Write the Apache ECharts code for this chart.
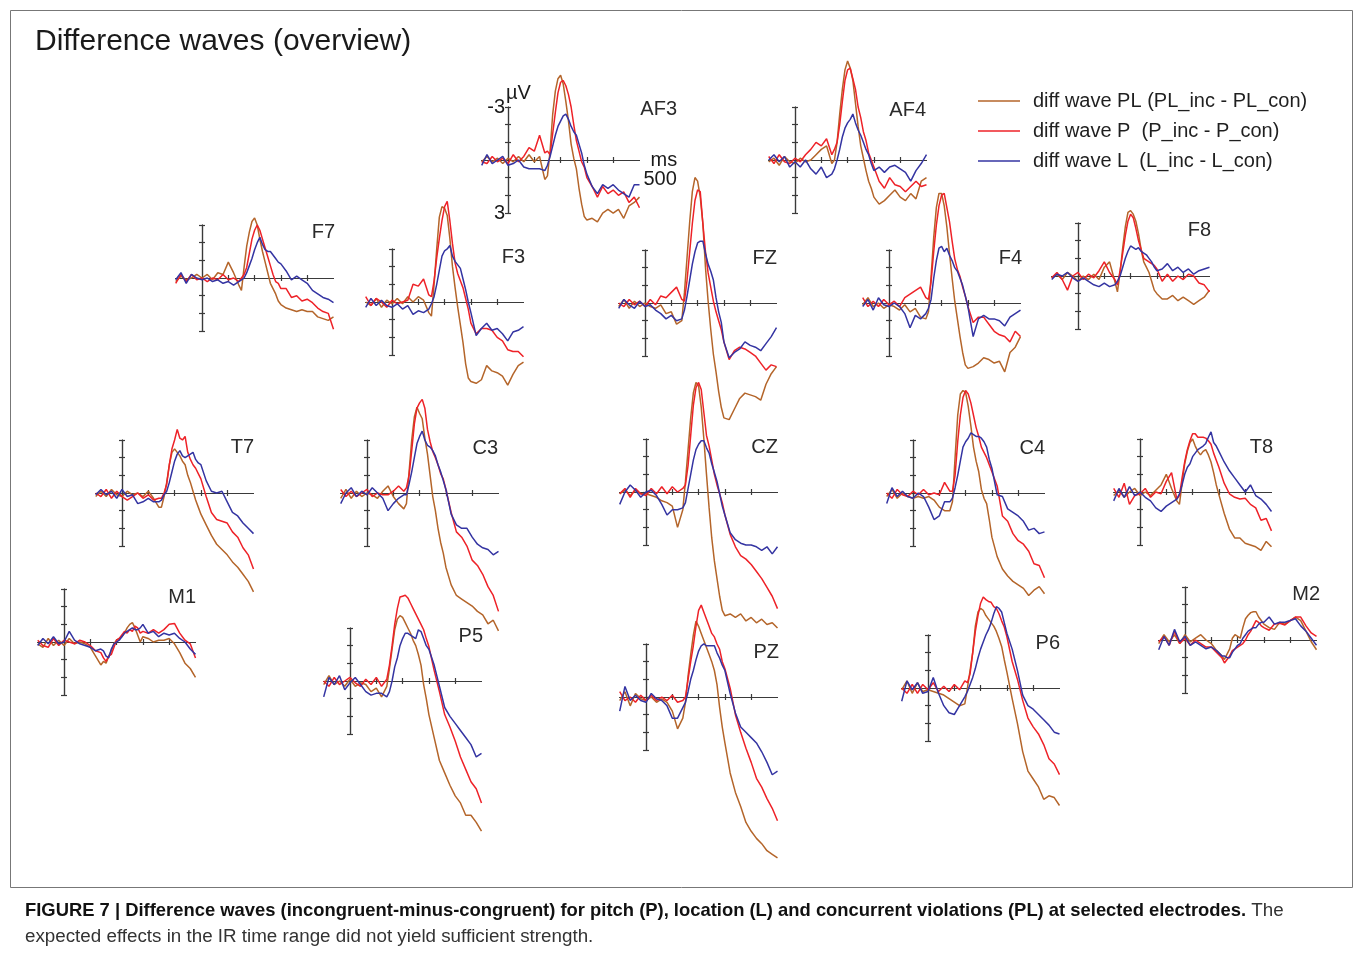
<!DOCTYPE html>
<html><head><meta charset="utf-8">
<script src="https://cdn.jsdelivr.net/npm/echarts@6/dist/echarts.min.js"></script>
<style>html,body{margin:0;padding:0;background:#fff}#c{width:1355px;height:955px}</style>
</head><body><div id="c"></div>
<script>
// time axis (ms)
const times = [-100,-80,-60,-40,-20,0,20,40,60,80,100,120,140,150,160,170,180,190,200,210,220,230,240,250,260,270,280,290,300,320,340,360,380,400,420,440,460,480,500];
const seriesNames = ['diff wave PL (PL_inc - PL_con)', 'diff wave P  (P_inc - P_con)', 'diff wave L  (L_inc - L_con)'];
const seriesColors = ['#B4652A', '#EE2228', '#3434A2'];
const xTickValues = [100,200,300,400];
const yTickLabels = [-3, 3];
const xTickLabel = 500;

// values in µV (negative up)
const AF3_PL = [0.1,-0.2,0.1,-0.1,0.2,-0.1,0.1,-0.2,0.1,-0.3,0.1,-0.2,1.1, 0.9,-0.5,-2.6,-3.9,-4.6,-4.8,-4.3,-3.3,-2.2,-0.9,-0.1,0.5,1.6,2.5,3.2,3.4, 3.3,3.5,3.0,2.8,3.0,2.8,3.3,2.6,2.4,2.1];
const AF3_P  = [0.1,0.2,-0.2,0.1,-0.1,0.2,-0.3,0.1,-0.2,-0.7,-0.5,-1.4,-0.4, -0.5,-0.3,-1.5,-2.7,-3.8,-4.4,-4.5,-4.2,-3.7,-3.0,-2.0,-1.1,-0.5,0.1,0.4,1.0, 1.5,2.1,1.5,1.9,1.7,2.0,1.8,2.4,2.1,2.7];
const AF3_L  = [0.3,-0.3,0.2,0.0,-0.2,0.3,0.2,0.0,0.4,0.5,0.5,0.5,0.6, 0.3,-0.2,-0.8,-1.4,-1.9,-2.2,-2.5,-2.6,-2.3,-1.9,-1.6,-1.4,-0.9,-0.4,0.3,0.8, 1.5,1.9,1.4,1.6,1.4,1.7,1.9,2.1,1.4,1.4];
const AF4_PL = [0.1,-0.1,0.3,-0.2,0.1,0.2,-0.1,0.1,0.0,-0.3,-0.6,-0.8,0.2, 0.0,-1.0,-2.6,-4.0,-5.1,-5.6,-5.2,-4.5,-3.2,-1.9,-0.8,-0.1,0.6,1.2,1.6,2.1, 2.5,2.3,2.0,1.7,2.1,2.3,1.9,2.2,1.2,1.0];
const AF4_P  = [-0.2,0.2,-0.3,0.1,0.2,-0.1,0.1,-0.3,-0.6,-1.0,-0.8,-1.2,-0.3, -0.6,-1.0,-2.0,-3.3,-4.5,-5.1,-5.2,-4.6,-4.0,-3.0,-2.4,-1.6,-1.1,-0.4,0.0,0.4, 1.2,1.6,1.0,1.4,1.5,1.8,1.5,1.2,1.5,1.4];
const AF4_L  = [0.0,-0.3,0.1,-0.2,0.4,0.1,0.4,0.0,0.5,0.8,0.4,1.0,0.8, 0.5,0.0,-0.6,-1.3,-1.8,-2.1,-2.3,-2.6,-2.1,-1.7,-1.4,-1.0,-0.6,-0.3,0.2,0.6, 0.4,0.7,0.4,0.3,0.5,0.7,1.2,0.6,0.2,-0.3];
const F7_PL = [0.2,-0.1,0.1,0.0,-0.2,0.0,-0.2,0.1,-0.3,-0.2,-0.9,-0.3,0.4, 0.7,-0.6,-1.8,-2.6,-3.2,-3.4,-3.0,-2.2,-1.5,-0.9,-0.3,0.3,0.6,0.9,1.3,1.5, 1.7,1.8,1.9,1.8,1.9,1.9,2.2,2.3,2.4,2.2];
const F7_P  = [0.3,-0.2,0.2,-0.2,0.1,0.0,0.2,0.0,0.1,-0.2,0.1,0.0,0.2, 0.0,-0.2,-0.6,-1.4,-2.2,-2.7,-3.0,-2.7,-2.2,-1.7,-1.2,-0.7,-0.2,0.2,0.3,0.6, 0.6,1.1,1.0,1.3,1.2,1.4,1.7,1.9,2.0,2.9];
const F7_L  = [0.1,-0.3,0.3,-0.2,0.0,0.1,0.0,0.2,0.1,0.3,0.2,0.4,0.2, 0.1,0.0,-0.3,-0.7,-1.1,-1.6,-2.0,-2.3,-1.9,-1.6,-1.5,-1.5,-1.3,-1.1,-0.9,-0.8, -0.4,0.1,-0.1,0.1,0.3,0.7,0.9,1.1,1.2,1.4];
const F3_PL = [0.0,0.2,-0.2,0.3,-0.1,0.1,-0.2,0.1,-0.3,0.0,-0.3,-0.1,0.6, 0.8,-1.0,-3.0,-4.8,-5.4,-5.3,-4.9,-3.6,-2.0,-0.8,0.3,1.3,2.3,3.5,4.3,4.5, 4.6,4.4,3.6,3.9,4.0,4.2,4.7,4.1,3.6,3.4];
const F3_P  = [-0.3,0.2,-0.2,0.0,0.3,-0.1,0.1,0.0,-0.1,-1.0,-0.9,-1.3,-0.4, -0.3,-1.2,-2.5,-3.6,-4.6,-5.4,-5.7,-4.6,-3.3,-2.2,-1.6,-1.2,-0.8,-0.2,0.4,1.2, 1.8,1.5,1.5,1.6,2.0,2.2,2.7,2.8,2.8,3.1];
const F3_L  = [0.3,-0.2,0.2,-0.1,0.2,0.3,0.1,0.4,0.2,0.7,0.5,0.6,0.4, 0.1,-0.3,-1.0,-1.8,-2.6,-2.9,-3.0,-3.2,-2.6,-2.3,-2.1,-1.9,-1.3,-0.7,0.0,0.6, 1.9,1.5,1.2,1.6,1.5,1.8,2.2,1.7,1.6,1.4];
const FZ_PL = [0.2,-0.2,0.3,-0.1,0.2,0.0,0.2,0.3,0.1,0.6,0.5,1.2,1.0, -0.6,-2.6,-4.6,-6.3,-7.1,-6.9,-6.0,-4.5,-2.0,-0.1,1.5,2.9,3.9,5.0,5.9,6.5, 6.6,6.0,5.4,5.1,5.2,5.3,5.5,4.6,4.0,3.6];
const FZ_P  = [0.0,0.2,-0.2,0.1,-0.1,0.2,-0.2,0.1,-0.4,-0.3,-0.6,-0.9,-0.2, -0.1,-1.3,-2.9,-4.5,-5.8,-6.4,-6.3,-4.5,-2.9,-1.7,-0.9,-0.1,0.5,1.0,1.5,2.2, 3.2,2.7,2.5,2.6,2.8,3.0,3.4,3.8,3.5,3.6];
const FZ_L  = [0.3,-0.2,0.1,0.3,-0.1,0.2,0.1,0.4,0.6,0.9,0.7,1.0,0.9, 0.4,-0.4,-1.3,-2.2,-2.9,-3.4,-3.5,-3.5,-2.8,-2.2,-1.8,-1.3,-0.3,0.5,1.1,2.2, 3.1,2.8,2.6,2.2,2.4,2.5,2.7,2.3,1.9,1.4];
const F4_PL = [0.1,-0.3,0.2,0.0,0.3,0.1,0.2,0.4,0.1,0.5,0.3,0.8,0.9, 0.5,-1.5,-3.7,-5.4,-6.2,-6.2,-5.5,-4.3,-2.8,-1.4,-0.1,0.9,1.9,2.8,3.5,3.7, 3.6,3.4,3.1,3.2,3.4,3.3,3.9,2.8,2.5,1.9];
const F4_P  = [-0.3,0.2,-0.1,0.2,-0.2,0.1,-0.1,0.2,-0.3,-0.5,-0.7,-0.9,-0.3, -0.2,-1.2,-2.9,-4.4,-5.5,-6.1,-6.2,-5.4,-4.6,-3.5,-2.5,-1.9,-1.5,-0.9,-0.4,0.2, 1.1,0.8,0.8,1.2,1.6,1.8,1.9,2.2,1.6,1.9];
const F4_L  = [0.2,-0.2,0.4,-0.3,0.1,0.2,0.0,0.2,0.6,1.4,0.7,0.9,0.6, 0.3,-0.2,-1.4,-2.4,-3.1,-3.2,-2.9,-3.1,-2.7,-2.4,-2.0,-1.8,-1.4,-1.0,-0.4,0.2, 1.9,0.9,0.7,0.9,0.9,1.0,1.3,0.8,0.6,0.4];
const F8_PL = [0.1,-0.1,0.2,-0.2,0.0,0.3,0.0,0.2,-0.1,0.2,-0.5,-0.8,0.3, 0.9,-0.2,-1.6,-2.8,-3.6,-3.7,-3.5,-3.1,-2.4,-1.5,-0.8,-0.5,-0.2,0.3,0.8,1.0, 1.3,1.3,1.1,1.4,1.2,1.4,1.6,1.4,1.2,0.8];
const F8_P  = [0.1,-0.2,0.2,0.8,0.0,-0.2,0.2,-0.1,0.1,-0.3,-0.8,-0.2,0.2, 0.5,-0.3,-1.3,-2.3,-3.1,-3.5,-3.3,-2.7,-2.0,-1.5,-1.0,-0.9,-0.8,-0.7,-0.6,-0.4, 0.3,-0.1,0.3,0.0,0.2,-0.1,0.0,0.4,0.5,0.9];
const F8_L  = [0.2,-0.1,0.0,-0.2,0.1,0.3,0.1,0.3,0.5,0.6,0.4,0.6,0.5, 0.3,0.0,-0.5,-1.0,-1.4,-1.7,-1.6,-1.5,-1.6,-1.4,-1.3,-1.2,-1.0,-0.8,-0.5,-0.3, -0.4,-0.7,-0.3,-0.5,-0.2,-0.4,-0.1,-0.3,-0.4,-0.5];
const T7_PL = [0.2,-0.1,0.2,-0.2,0.1,0.2,-0.1,0.1,0.0,0.2,-0.1,0.3,0.8, 0.8,0.2,-0.6,-1.6,-2.3,-2.5,-2.3,-2.1,-1.8,-1.6,-1.0,-0.6,-0.1,0.4,0.8,1.2, 1.8,2.4,2.9,3.2,3.5,3.9,4.2,4.6,5.0,5.6];
const T7_P  = [0.0,0.2,-0.2,0.3,-0.1,0.2,0.4,0.2,0.0,0.3,0.1,0.4,0.3, 0.3,0.0,-0.5,-1.6,-2.5,-3.0,-3.6,-3.1,-3.0,-3.2,-2.3,-1.9,-1.6,-1.4,-1.1,-0.8, 0.2,1.1,1.5,1.6,1.7,2.2,2.5,3.1,3.5,4.3];
const T7_L  = [0.1,-0.2,0.1,-0.1,0.3,-0.2,0.2,0.1,0.6,0.5,0.3,0.5,0.5, 0.4,0.1,-0.1,-0.6,-1.2,-1.8,-2.2,-2.4,-2.1,-2.0,-2.1,-2.2,-2.3,-1.9,-1.7,-1.6, -0.7,-0.1,0.0,-0.1,0.5,1.1,1.3,1.7,2.0,2.3];
const C3_PL = [0.3,-0.2,0.3,-0.1,0.2,0.0,0.1,0.3,-0.1,-0.4,0.2,0.6,0.9, 0.6,-1.2,-3.0,-4.3,-4.85,-4.5,-4.2,-3.1,-2.2,-1.0,0.2,1.0,2.0,2.8,3.4,4.2, 5.2,5.8,6.0,6.2,6.4,6.7,6.9,7.4,7.2,7.8];
const C3_P  = [-0.2,0.2,-0.1,0.2,0.0,-0.2,0.2,0.0,0.1,0.1,-0.1,-0.4,-0.1, -0.3,-1.0,-2.4,-3.9,-4.8,-5.1,-5.3,-4.8,-3.6,-2.9,-2.35,-2.0,-1.6,-1.1,-0.8,-0.2, 1.1,2.2,2.5,3.0,3.8,4.1,4.6,5.3,5.8,6.7];
const C3_L  = [0.6,0.0,-0.3,0.2,-0.1,0.1,-0.3,0.0,0.3,1.0,0.6,0.3,0.1, 0.1,-0.5,-1.2,-2.0,-2.8,-3.2,-3.5,-3.0,-2.7,-2.6,-2.4,-2.1,-1.6,-1.2,-0.7,-0.2, 1.2,1.8,2.0,2.0,2.5,2.9,3.1,3.2,3.5,3.3];
const CZ_PL = [0.1,-0.1,0.2,-0.1,0.1,0.1,0.2,0.3,0.5,0.6,0.8,2.0,1.0, -0.6,-2.4,-4.2,-5.6,-6.2,-6.0,-4.8,-3.0,-1.0,0.9,2.6,3.9,4.9,5.9,6.7,7.0, 6.9,7.1,6.9,7.3,7.1,7.4,7.2,7.5,7.4,7.7];
const CZ_P  = [0.1,-0.2,0.3,-0.2,0.1,0.2,-0.2,0.1,-0.3,0.1,-0.3,0.0,-0.2, -0.4,-1.5,-3.2,-4.9,-5.9,-6.2,-5.8,-4.5,-3.2,-2.6,-1.8,-1.0,-0.4,0.1,0.6,1.3, 2.4,3.1,3.6,3.8,4.1,4.5,4.9,5.4,5.9,6.6];
const CZ_L  = [0.7,0.0,-0.4,-0.1,0.3,0.0,-0.1,0.2,0.7,1.3,1.0,1.0,0.9, 0.6,-0.2,-1.0,-1.8,-2.4,-2.7,-2.9,-2.9,-2.5,-2.2,-1.6,-1.1,-0.6,0.1,0.8,1.3, 2.3,2.7,2.9,3.0,3.0,3.1,3.3,3.1,3.5,3.1];
const C4_PL = [0.2,-0.2,0.3,0.0,0.2,0.3,0.2,0.3,0.2,0.4,0.8,1.0,1.0, 0.5,-2.0,-4.4,-5.6,-5.8,-5.7,-4.9,-3.8,-2.6,-1.8,-1.2,-0.2,0.3,0.6,1.5,2.5, 3.6,4.3,4.7,5.0,5.2,5.4,5.8,5.5,5.3,5.7];
const C4_P  = [0.0,0.3,-0.2,0.1,0.2,-0.1,0.1,-0.2,0.1,0.0,0.1,-0.6,-0.1, -0.1,-1.0,-2.9,-4.4,-5.4,-5.8,-5.6,-5.1,-4.4,-3.7,-3.2,-2.6,-2.3,-2.0,-1.6,-1.2, -0.4,1.3,1.6,2.3,2.7,2.9,3.3,4.0,4.1,4.8];
const C4_L  = [0.6,-0.3,0.2,-0.1,0.2,0.3,0.0,0.2,0.8,1.5,1.3,0.5,0.5, 0.3,-0.3,-1.0,-1.8,-2.6,-2.9,-3.1,-3.4,-3.3,-3.2,-3.2,-3.1,-2.9,-2.6,-1.9,-1.4, 0.1,0.2,0.9,1.1,1.3,1.6,2.1,2.0,2.3,2.2];
const T8_PL = [0.2,-0.1,0.3,0.0,-0.2,0.2,0.0,0.2,-0.1,-0.4,-1.0,-0.2,0.5, 0.7,-0.5,-1.6,-2.3,-2.8,-3.0,-2.6,-2.3,-2.1,-2.3,-2.4,-2.1,-1.7,-1.1,-0.4,0.15, 1.2,2.1,2.6,2.6,2.9,3.0,3.1,3.3,2.8,3.1];
const T8_P  = [-0.2,0.3,-0.5,0.7,0.2,0.1,-0.2,0.3,0.0,0.1,-0.6,-1.1,0.4, 0.2,-0.8,-1.7,-2.4,-2.9,-3.3,-3.3,-3.1,-3.1,-3.1,-3.05,-2.9,-2.7,-2.2,-1.8,-1.4, -0.5,0.1,0.3,0.4,0.35,0.7,0.9,1.6,1.5,2.2];
const T8_L  = [0.5,-0.2,0.3,-0.3,0.2,0.0,0.3,0.5,0.9,1.1,0.8,0.6,0.4, 0.1,-0.4,-1.0,-1.4,-1.6,-2.0,-2.2,-2.4,-2.5,-2.6,-2.75,-3.1,-3.4,-2.8,-2.6,-2.3, -1.7,-1.2,-0.8,-0.4,0.0,-0.4,0.2,0.4,0.7,1.1];
const M1_PL = [0.1,0.3,-0.2,0.2,-0.1,0.2,-0.2,0.1,0.0,0.1,0.3,0.8,1.3, 1.1,1.2,0.8,0.5,0.1,-0.1,-0.2,-0.3,-0.5,-0.8,-1.0,-1.1,-0.8,-0.4,0.0,-0.3, -0.2,0.0,-0.1,-0.1,-0.2,0.1,0.6,1.2,1.5,2.0];
const M1_P  = [-0.1,0.2,0.3,-0.2,0.2,-0.1,0.0,0.1,-0.1,0.0,0.2,0.5,0.6, 0.9,1.1,0.8,0.7,0.3,-0.1,-0.2,-0.4,-0.6,-0.5,-0.7,-0.6,-0.9,-0.8,-0.5,-0.6, -0.5,-0.7,-0.5,-0.7,-1.0,-1.05,-0.5,-0.1,0.1,0.9];
const M1_L  = [0.2,-0.2,0.1,-0.3,0.1,0.0,-0.6,-0.1,0.1,0.2,0.3,0.5,0.4, 0.5,0.8,0.9,0.4,0.1,0.0,-0.1,-0.3,-0.5,-0.6,-0.7,-0.8,-0.7,-0.7,-0.8,-1.0, -0.5,-0.6,-0.3,-0.5,-0.4,-0.5,-0.2,0.0,0.4,0.7];
const P5_PL = [0.2,-0.3,0.2,0.0,0.3,-0.1,0.3,0.1,0.2,0.6,0.4,0.9,0.3, -0.7,-1.8,-2.9,-3.5,-3.7,-3.6,-3.3,-3.0,-2.7,-2.3,-2.0,-1.5,-0.9,0.2,1.0,1.9, 3.2,4.5,5.2,5.9,6.5,6.9,7.6,7.6,8.0,8.5];
const P5_P  = [0.0,0.3,-0.2,0.2,0.0,-0.2,0.1,0.3,-0.1,0.2,-0.2,0.3,-0.1, -0.9,-2.0,-3.2,-4.1,-4.75,-4.8,-4.85,-4.7,-4.4,-4.1,-3.8,-3.5,-3.2,-2.9,-2.4,-1.95, -0.6,0.6,1.9,2.6,3.4,4.3,5.0,5.7,6.1,6.9];
const P5_L  = [0.9,-0.2,0.2,-0.3,0.5,0.1,-0.2,0.2,0.6,0.8,0.7,0.7,0.9, 0.6,0.0,-0.8,-1.3,-2.0,-2.4,-2.7,-2.7,-2.6,-2.5,-2.4,-2.9,-2.8,-2.4,-2.0,-1.8, -0.9,0.3,1.5,2.0,2.4,2.8,3.2,3.6,4.3,4.1];
const PZ_PL = [0.2,-0.3,0.5,-0.2,0.1,0.2,0.0,0.3,0.1,0.3,0.8,1.8,1.2, 0.3,-1.2,-2.4,-3.5,-4.3,-4.0,-3.6,-3.2,-2.8,-2.4,-2.0,-1.5,-0.7,0.6,1.7,2.6, 4.3,5.4,6.2,7.1,7.6,8.0,8.3,8.7,8.9,9.1];
const PZ_P  = [-0.3,0.2,0.0,0.3,-0.1,0.2,-0.1,0.2,0.0,0.2,-0.1,0.3,0.2, 0.0,-1.0,-2.0,-2.9,-4.0,-4.9,-5.2,-4.8,-4.4,-4.0,-3.6,-3.4,-3.0,-2.7,-2.0,-1.6, -0.5,1.0,2.0,2.9,3.7,4.6,5.1,5.75,6.3,7.0];
const PZ_L  = [0.8,-0.6,0.2,-0.1,0.2,0.3,-0.2,0.1,0.2,0.5,1.2,1.2,0.6, 0.3,-0.3,-1.0,-1.5,-2.1,-2.6,-2.9,-3.0,-2.9,-2.9,-2.9,-2.9,-2.5,-2.2,-1.8,-1.5, -0.2,0.9,1.7,2.0,2.3,2.6,3.1,3.7,4.4,4.2];
const P6_PL = [0.1,-0.4,0.3,-0.3,0.2,0.1,0.2,0.3,0.4,0.6,0.8,1.0,0.9, 0.0,-1.0,-2.0,-3.5,-4.3,-4.5,-4.4,-4.1,-3.9,-3.7,-3.5,-3.2,-2.8,-2.35,-1.6,-0.9, 0.6,2.0,3.6,4.7,5.15,5.6,6.3,6.1,6.2,6.65];
const P6_P  = [0.0,0.3,-0.2,0.3,-0.2,0.1,-0.3,0.2,-0.1,0.2,-0.2,0.1,-0.4, -0.3,-0.8,-2.0,-3.2,-4.1,-4.8,-5.15,-5.0,-4.9,-4.85,-4.6,-4.5,-4.2,-3.8,-3.45,-2.9, -1.5,-0.5,0.7,1.7,2.2,2.6,3.2,4.0,4.3,4.9];
const P6_L  = [0.75,-0.4,0.1,-0.3,0.3,0.2,-0.6,0.3,1.0,1.4,1.5,1.0,0.5, 0.2,-0.2,-0.6,-1.1,-1.7,-2.2,-2.6,-3.0,-3.3,-3.7,-4.2,-4.6,-4.5,-4.3,-3.7,-3.1, -2.2,-1.0,0.4,1.0,1.2,1.5,1.8,2.1,2.5,2.6];
const M2_PL = [0.2,-0.3,0.1,-0.3,0.2,-0.3,0.1,-0.1,-0.3,0.0,0.2,0.6,0.9, 1.1,0.8,0.5,-0.1,-0.3,-0.2,-0.1,-0.7,-1.2,-1.4,-1.55,-1.6,-1.6,-1.3,-1.1,-0.9, -0.7,-0.6,-1.0,-0.9,-1.1,-1.3,-1.1,-0.5,0.1,0.55];
const M2_P  = [0.1,-0.2,0.3,-0.5,0.2,-0.1,0.3,0.0,0.2,0.4,0.4,0.7,1.0, 1.3,1.1,0.9,0.6,0.5,0.4,0.3,0.2,0.0,-0.3,-0.5,-0.8,-1.1,-1.0,-0.8,-0.7, -0.55,-0.9,-0.95,-0.85,-1.1,-1.3,-1.3,-0.8,-0.4,-0.2];
const M2_L  = [0.55,-0.2,0.3,-0.6,0.1,-0.2,0.3,0.1,0.3,0.5,0.4,0.6,0.9, 0.9,1.0,1.0,0.7,0.5,0.3,0.2,-0.1,-0.3,-0.5,-0.6,-0.7,-0.7,-0.9,-1.0,-1.0, -1.3,-0.9,-1.0,-1.0,-1.1,-1.2,-0.8,-0.5,-0.1,0.3];

const waves = {
  AF3:[AF3_PL,AF3_P,AF3_L], AF4:[AF4_PL,AF4_P,AF4_L], F7:[F7_PL,F7_P,F7_L], F3:[F3_PL,F3_P,F3_L],
  FZ:[FZ_PL,FZ_P,FZ_L], F4:[F4_PL,F4_P,F4_L], F8:[F8_PL,F8_P,F8_L], T7:[T7_PL,T7_P,T7_L],
  C3:[C3_PL,C3_P,C3_L], CZ:[CZ_PL,CZ_P,CZ_L], C4:[C4_PL,C4_P,C4_L], T8:[T8_PL,T8_P,T8_L],
  M1:[M1_PL,M1_P,M1_L], P5:[P5_PL,P5_P,P5_L], PZ:[PZ_PL,PZ_P,PZ_L], P6:[P6_PL,P6_P,P6_L], M2:[M2_PL,M2_P,M2_L]
};

// layout: electrode, origin x, origin y (px), label right edge, label centre y
const panels = [
  ['AF3',508,160,677,109], ['AF4',795,160,926,110],
  ['F7',202,278,335,232], ['F3',392,302,525,257], ['FZ',645,303,777,258], ['F4',889,303,1022,258], ['F8',1078,276,1211,230],
  ['T7',122,493,254,447], ['C3',367,493,498,448], ['CZ',646,492,778,447], ['C4',913,493,1045,448], ['T8',1140,492,1273,447],
  ['M1',64,642,196,597], ['P5',350,681,483,636], ['PZ',646,697,779,652], ['P6',928,688,1060,643], ['M2',1185,640,1320,594]
];

const FONT = "'Liberation Sans', Arial, Helvetica, sans-serif";
const PX_PER_MS = 0.263, PX_PER_UV = 17.67;
const W = 600 * PX_PER_MS, W0 = 100 * PX_PER_MS, H = 6 * PX_PER_UV;
const AX = '#3a3a3a';

const grid = [], xAxis = [], yAxis = [], series = [];
const title = [{
  text: 'Difference waves (overview)', left: 35, top: 27, padding: 0,
  textStyle: {fontSize: 30, fontWeight: 'normal', color: '#1a1a1a', fontFamily: FONT, lineHeight: 30}
}];

panels.forEach((p, i) => {
  const [name, ox, oy, lr, ly] = p;
  const ref = name === 'AF3';
  grid.push({left: ox - W0, top: oy - H / 2, width: W, height: H, containLabel: false, outerBoundsMode: 'none'});
  const xBase = (pos, idx) => ({
    gridIndex: i, type: 'value', min: -100, max: 500, interval: 100, position: pos,
    axisLine: {show: true, onZero: true, onZeroAxisIndex: idx, lineStyle: {color: AX, width: 1.2}},
    axisTick: {show: true, length: 3, customValues: xTickValues, lineStyle: {color: AX, width: 1.2}},
    splitLine: {show: false}, axisLabel: {show: false}
  });
  const xa = xBase('bottom', 2 * i);
  if (ref) {
    // labels sit at the grid edge, so pull them up to the zero line
    xa.axisLabel = {show: true, showMaxLabel: true, formatter: v => (v === xTickLabel ? String(v) : ''), align: 'left',
      margin: 9 - H / 2, fontSize: 20, color: '#1a1a1a', fontFamily: FONT, padding: [0, 0, 0, 4]};
    xa.name = 'ms'; xa.nameLocation = 'end'; xa.nameGap = 11; xa.nameMoveOverlap = false;
    xa.nameTextStyle = {fontSize: 20, color: '#1a1a1a', fontFamily: FONT, verticalAlign: 'middle', align: 'left', padding: [0, 0, 2, 0]};
  }
  xAxis.push(xa, xBase('top', 2 * i + 1));
  const yBase = (pos, idx) => ({
    gridIndex: i, type: 'value', min: -3, max: 3, interval: 1, inverse: true, position: pos,
    axisLine: {show: true, onZero: true, onZeroAxisIndex: idx, lineStyle: {color: AX, width: 1.2}},
    axisTick: {show: true, length: 3, lineStyle: {color: AX, width: 1.2}},
    splitLine: {show: false}, axisLabel: {show: false}
  });
  const ya = yBase('left', 2 * i);
  if (ref) {
    ya.axisLabel = {show: true, showMinLabel: true, showMaxLabel: true,
      formatter: v => (yTickLabels.indexOf(v) >= 0 ? String(v) : ''), margin: 3 - W0,
      fontSize: 20, color: '#1a1a1a', fontFamily: FONT, padding: [7, 0, 0, 0]};
    ya.name = 'µV'; ya.nameLocation = 'start'; ya.nameGap = 4; ya.nameMoveOverlap = false;
    ya.nameTextStyle = {fontSize: 20, color: '#1a1a1a', fontFamily: FONT, align: 'left', verticalAlign: 'bottom', padding: [0, 0, 0, -2]};
  }
  yAxis.push(ya, yBase('right', 2 * i + 1));

  title.push({text: name, right: 1355 - lr, top: ly - 10, padding: 0,
    textStyle: {fontSize: 20, fontWeight: 'normal', color: '#2a2a2a', fontFamily: FONT, lineHeight: 20}});

  waves[name].forEach((vals, k) => {
    series.push({
      type: 'line', name: seriesNames[k], xAxisIndex: 2 * i, yAxisIndex: 2 * i,
      data: times.map((t, j) => [t, vals[j]]),
      symbol: 'none', showSymbol: false, clip: false, smooth: false,
      lineStyle: {color: seriesColors[k], width: 1.5}, itemStyle: {color: seriesColors[k]},
      emphasis: {disabled: true}, z: 2 + k
    });
  });
});

title.push({
  left: 25, top: 898, padding: 0,
  text: '{b|FIGURE 7 | Difference waves (incongruent-minus-congruent) for pitch (P), location (L) and concurrent violations (PL) at selected electrodes.}{r| The}\n{r|expected effects in the IR time range did not yield sufficient strength.}',
  textStyle: {rich: {
    b: {fontFamily: FONT, fontSize: 18.4, fontWeight: 'bold', color: '#111', lineHeight: 26},
    r: {fontFamily: FONT, fontSize: 18.8, fontWeight: 'normal', color: '#333', lineHeight: 26}
  }}
});

const chart = echarts.init(document.getElementById('c'), null, {renderer: 'canvas', width: 1355, height: 955});
chart.setOption({
  animation: false,
  backgroundColor: '#ffffff',
  textStyle: {fontFamily: FONT},
  title: title,
  legend: {
    data: seriesNames, orient: 'vertical', left: 978, top: 91, itemWidth: 42, itemHeight: 1.6, itemGap: 10,
    icon: 'rect', selectedMode: false, padding: 0,
    textStyle: {fontSize: 20, color: '#1f1f1f', fontFamily: FONT, lineHeight: 20, padding: [0, 0, 0, 8]}
  },
  graphic: [{type: 'rect', shape: {x: 10.5, y: 10.5, width: 1342, height: 877}, style: {fill: 'none', stroke: '#777', lineWidth: 1}, silent: true, z: -1}],
  grid: grid, xAxis: xAxis, yAxis: yAxis, series: series
});
</script></body></html>
